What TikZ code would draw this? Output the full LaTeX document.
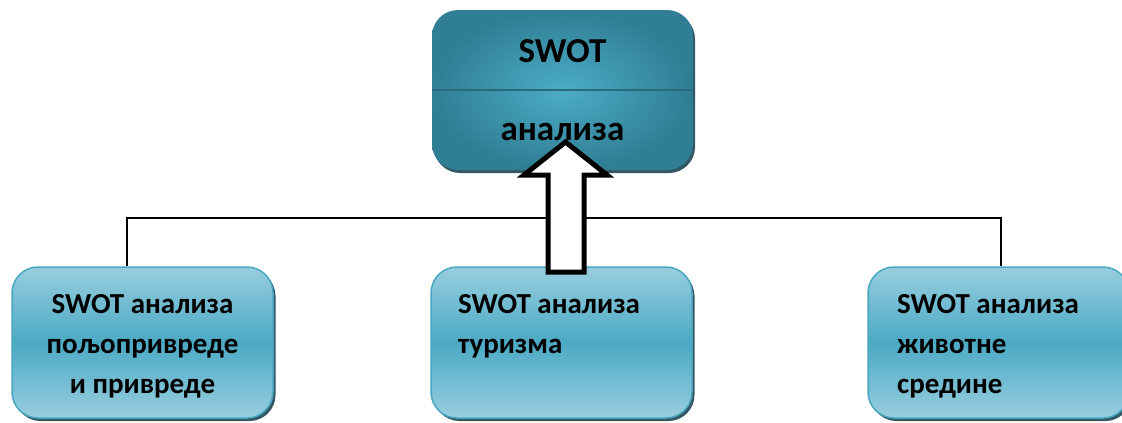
\documentclass[tikz,border=0pt]{standalone}
\usepackage{fontspec}
\setmainfont{Carlito}
\usetikzlibrary{shadows}
\definecolor{topout}{HTML}{2F7E93}
\definecolor{topin}{HTML}{4CACC7}
\definecolor{boxlight}{HTML}{98CEDF}
\definecolor{boxmid}{HTML}{4BA9C4}
\definecolor{boxedge}{HTML}{4AA6C0}
\definecolor{shadowc}{HTML}{1E4652}
\tikzset{
  topbox/.style={draw=none, rounded corners=26pt, minimum width=261pt, minimum height=160pt,
    shading=radial, inner color=topin, outer color=topout,
    drop shadow={shadow xshift=2pt, shadow yshift=-3pt, fill=shadowc, opacity=0.9}},
  subbox/.style={draw=boxedge, line width=1.5pt, rounded corners=26pt, minimum width=261pt, minimum height=151pt,
    top color=boxlight, bottom color=boxlight, middle color=boxmid,
    drop shadow={shadow xshift=2.5pt, shadow yshift=-3pt, fill=shadowc, opacity=0.9}},
  bigtxt/.style={font=\fontsize{35}{40}\selectfont\bfseries, inner sep=0pt, anchor=base},
  subtxt/.style={font=\fontsize{29}{40}\selectfont\bfseries, inner sep=0pt},
  link/.style={line width=2.6pt, black},
  bigarrow/.style={draw=black, line width=5pt, fill=white, line join=miter}
}
\begin{document}
\begin{tikzpicture}[x=1pt,y=-1pt]
\useasboundingbox (0,0) rectangle (1122,423);
% top box
\node[topbox] (top) at (562.5,90) {};
\draw[topout!85!black, line width=1.2pt] (top.west) -- (top.east);
\node[bigtxt] (t1) at (562.5,62) {SWOT};
\node[bigtxt] (t2) at (562.5,140) {анализа};
% sub boxes
\node[subbox] (left) at (142.5,342.5) {};
\node[subbox] (mid) at (561.5,342.5) {};
\node[subbox] (right) at (998.5,342.5) {};
\node[subtxt, align=center, anchor=north] (lt) at (142.5,294) {SWOT анализа\\пољопривреде\\и привреде};
\node[subtxt, align=left, anchor=north west] (mt) at (458,294) {SWOT анализа\\туризма};
\node[subtxt, align=left, anchor=north west] (rt) at (897,294) {SWOT анализа\\животне\\средине};
% connector line
\coordinate (lc) at (127,218);
\coordinate (rc) at (1001,218);
\coordinate (lb) at (lc |- left.north);
\coordinate (rb) at (rc |- right.north);
\draw[link] (lb) -- (lc) -- (rc) -- (rb);
% block arrow
\draw[bigarrow] (548,272) -- (548,175) -- (524,175) -- (565.5,142) -- (607,175) -- (584,175) -- (584,272) -- cycle;
\end{tikzpicture}
\end{document}
